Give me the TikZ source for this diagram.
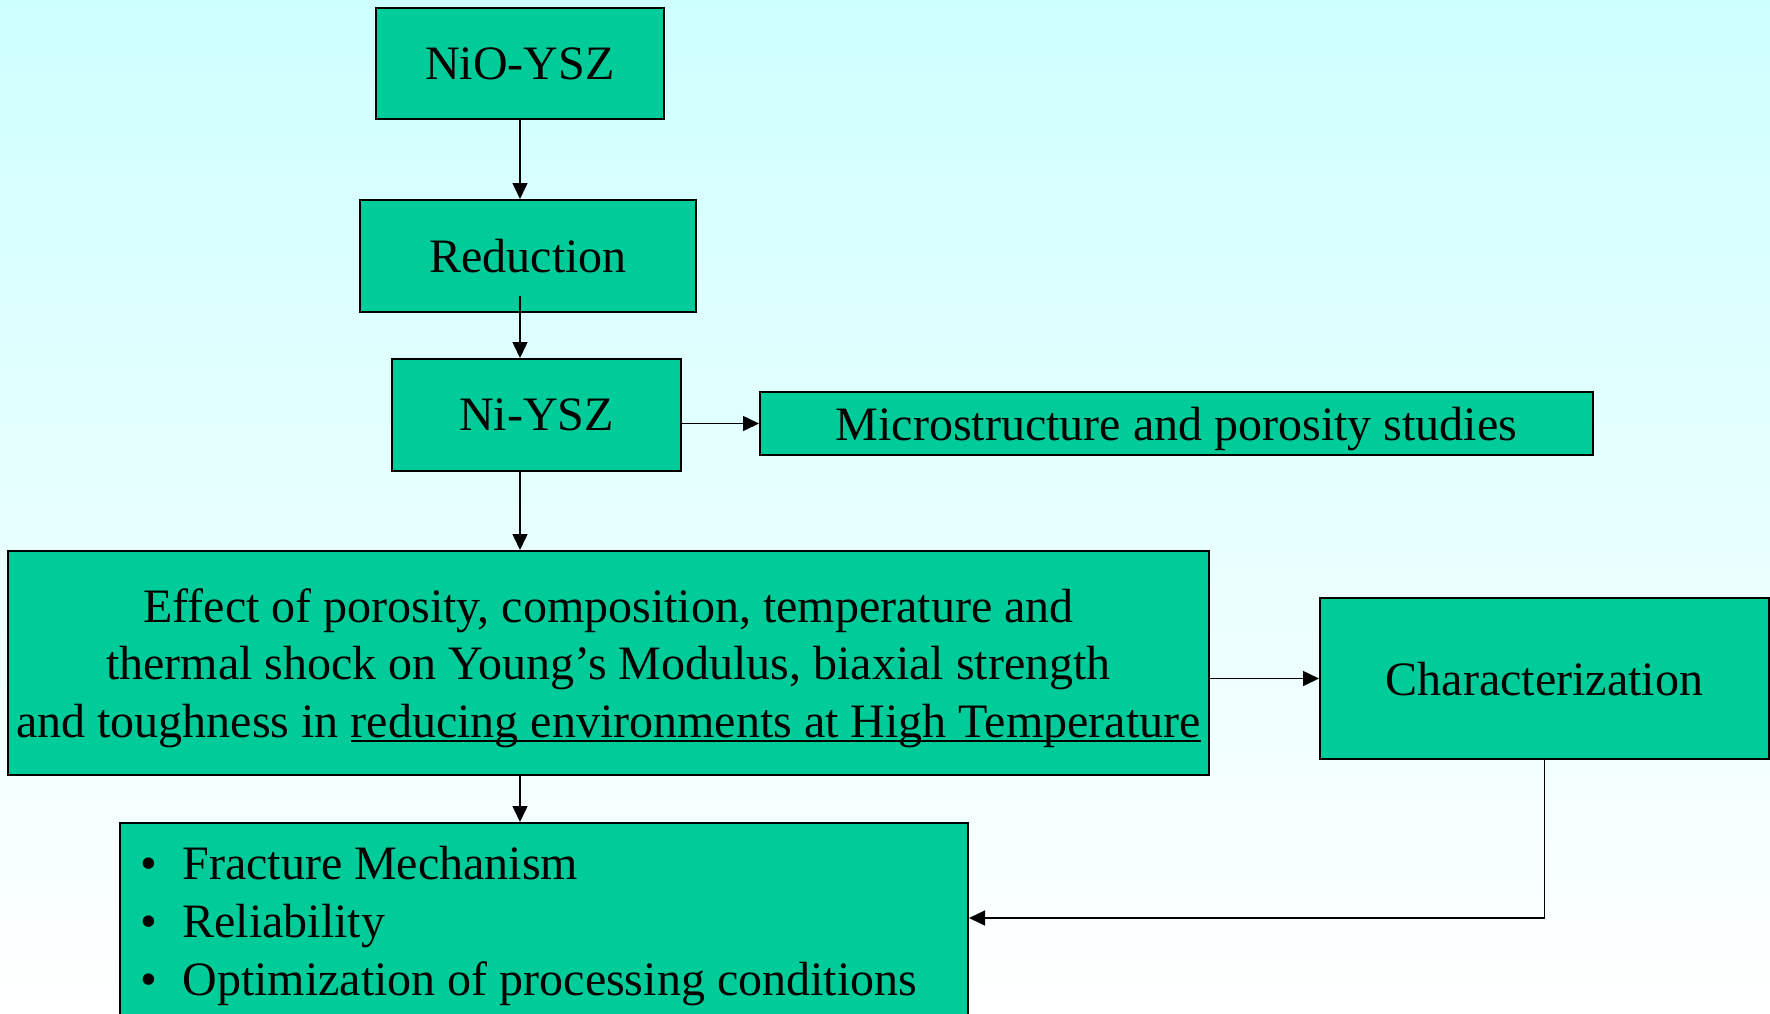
\documentclass[tikz,border=0pt]{standalone}
\usepackage{fontspec}
\setmainfont{Liberation Serif}
\usetikzlibrary{positioning,calc,arrows.meta}
\definecolor{boxgreen}{RGB}{0,204,153}
\definecolor{bgtop}{RGB}{206,255,255}
\newsavebox\ulbox
\newcommand{\ulword}[1]{\sbox\ulbox{#1}\rlap{\rule[-2.4pt]{\wd\ulbox}{1.4pt}}\usebox\ulbox}

\begin{document}
\begin{tikzpicture}[x=0.5pt, y=-0.5pt,
    box/.style={draw, line width=1pt, fill=boxgreen, inner sep=0pt,
      font=\fontsize{24}{28.8}\selectfont},
    flat/.style={text depth=0pt},
    arr/.style={-{Triangle[length=8pt,width=7.5pt]}, line width=0.75pt}]
  \useasboundingbox (0,0) rectangle (1770,1013);
  \shade[top color=bgtop, bottom color=white] (0,0) rectangle (1770,1013);
  \node[box, flat, minimum width=144pt, minimum height=55.5pt] (nio) at (520,63.5) {NiO-YSZ};
  \node[box, flat, minimum width=168pt, minimum height=56pt] (red) at (528,256) {Reduction};
  \node[box, flat, minimum width=144.5pt, minimum height=56pt] (niysz) at (536.5,415) {Ni-YSZ};
  \node[box, flat, minimum width=416.5pt, minimum height=31.5pt] (micro) at (1176.5,423.5) {Microstructure and porosity studies};
  \node[box, flat, align=center, minimum width=600.5pt, minimum height=112pt] (effect) at (608.5,663)
    {Effect of porosity, composition, temperature and\\
     thermal shock on Young’s Modulus, biaxial strength\\
     and toughness in \ulword{reducing environments at High Temperature}};
  \node[box, flat, minimum width=224.5pt, minimum height=80.5pt] (charac) at (1544.5,678.5) {Characterization};
  \node[box, align=flush left, inner xsep=10pt, text width=404pt, minimum height=103pt] (bullets) at (544,926)
    {\textbullet\hspace{12.8pt}Fracture Mechanism\\
     \textbullet\hspace{12.8pt}Reliability\\
     \textbullet\hspace{12.8pt}Optimization of processing conditions};
  \draw[arr] (nio) -- (nio |- red.north);
  \draw[arr] ($(red.south -| nio)+(0,-17)$) -- (nio |- niysz.north);
  \draw[arr] (niysz.south -| nio) -- (nio |- effect.north);
  \draw[arr] (effect.south -| nio) -- (nio |- bullets.north);
  \draw[arr] (niysz.east |- micro) -- (micro);
  \draw[arr] (effect.east |- charac) -- (charac);
  \draw[arr] (charac) |- ($(bullets.east)+(0,-8)$);
\end{tikzpicture}
\end{document}
